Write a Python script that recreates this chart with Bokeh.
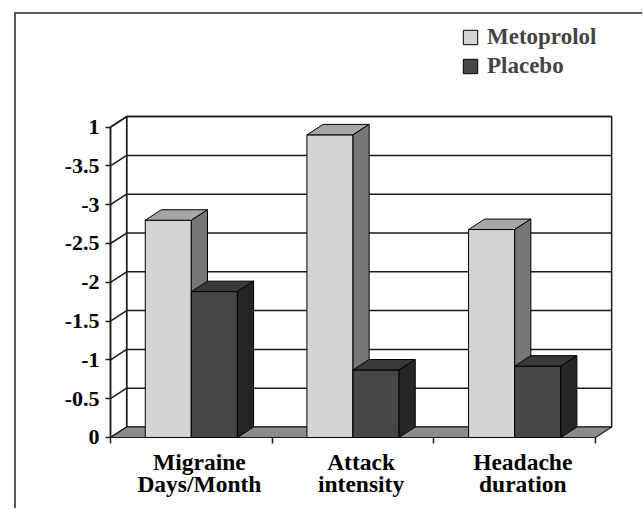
import numpy as np
from bokeh.plotting import figure
from bokeh.models import Range1d, FixedTicker, Legend, LegendItem
from bokeh.embed import file_html
from bokeh.resources import INLINE

# ---- data ----
categories = ["Migraine\nDays/Month", "Attack\nintensity", "Headache\nduration"]
series_names = ["Metoprolol", "Placebo"]
metoprolol = [-2.8, -3.9, -2.68]
placebo = [-1.88, -0.87, -0.92]
y_ticks = [0, 0.5, 1, 1.5, 2, 2.5, 3, 3.5, 4]
y_tick_labels = ["0", "-0.5", "-1", "-1.5", "-2", "-2.5", "-3", "-3.5", "1"]

# ---- style ----
DX, DY = 0.1, 0.135      # 3D depth offset (data units)
BAR_W = 0.285
FONT = "Liberation Serif"
MET_COLORS = ("#d4d4d4", "#a6a6a6", "#777777")   # front, top, side
PLA_COLORS = ("#474747", "#393939", "#262626")
FLOOR = "#8c8c8c"
GRID = "#1a1a1a"

n = len(categories)
ymax = y_ticks[-1]

p = figure(width=628, height=496, output_backend="svg", toolbar_location=None,
           x_range=Range1d(-0.0247, 3.1299), y_range=Range1d(-0.0516, 5.3737),
           min_border_left=90, min_border_right=28, min_border_top=6,
           min_border_bottom=69)
p.margin = (12, 0, 0, 14)
p.styles = {"border-top": "2px solid #5a5a5a", "border-left": "2px solid #5a5a5a"}
p.outline_line_color = None
p.grid.visible = False
p.background_fill_color = "white"

# back wall
p.quad(left=DX, right=n + DX, bottom=DY, top=ymax + DY,
       fill_color="white", line_color=GRID, line_width=1.5)
# side wall
p.patch([0, DX, DX, 0], [0, DY, ymax + DY, ymax],
        fill_color="white", line_color=GRID, line_width=1.5)
# gridlines
gt = [t for t in y_ticks if t > 0]
p.segment(x0=[DX] * len(gt), x1=[n + DX] * len(gt),
          y0=[t + DY for t in gt], y1=[t + DY for t in gt],
          line_color=GRID, line_width=1.5)
p.segment(x0=[0] * len(gt), x1=[DX] * len(gt),
          y0=gt, y1=[t + DY for t in gt], line_color=GRID, line_width=1.5)
# floor
p.patch([0, n, n + DX, DX], [0, 0, DY, DY],
        fill_color=FLOOR, line_color=GRID, line_width=1.2)
# front axis line
p.segment(x0=[0], x1=[0], y0=[0], y1=[ymax], line_color=GRID, line_width=1.5)

centers = np.arange(n) + 0.5
fronts = []
for vals, colors, side in ((metoprolol, MET_COLORS, -1), (placebo, PLA_COLORS, 1)):
    h = -np.array(vals, dtype=float)
    left = centers - BAR_W if side < 0 else centers
    right = left + BAR_W
    fr = p.quad(left=left, right=right, bottom=0, top=h,
                fill_color=colors[0], line_color="black", line_width=1)
    fronts.append(fr)
    p.patches(xs=[[l, r, r + DX, l + DX] for l, r in zip(left, right)],
              ys=[[v, v, v + DY, v + DY] for v in h],
              fill_color=colors[1], line_color="black", line_width=1)
    p.patches(xs=[[r, r + DX, r + DX, r] for r in right],
              ys=[[0, DY, v + DY, v] for v in h],
              fill_color=colors[2], line_color="black", line_width=1)

# y axis
ya = p.yaxis[0]
ya.ticker = FixedTicker(ticks=y_ticks)
ya.major_label_overrides = dict(zip(y_ticks, y_tick_labels))
ya.axis_line_color = None
ya.major_tick_in = 4
ya.major_tick_out = 1
ya.major_tick_line_color = GRID
ya.major_tick_line_width = 1.5
ya.minor_tick_line_color = None
ya.major_label_text_font = FONT
ya.major_label_text_font_style = "bold"
ya.major_label_text_font_size = "22px"
ya.major_label_text_color = "black"
ya.major_label_standoff = 6

# x axis
label_pos = [float(c + DX / 2) for c in centers]
xa = p.xaxis[0]
xa.ticker = FixedTicker(ticks=label_pos, minor_ticks=list(range(n + 1)))
xa.major_label_overrides = dict(zip(label_pos, categories))
xa.axis_line_color = None
xa.major_tick_line_color = None
xa.major_tick_in = 0
xa.major_tick_out = 0
xa.minor_tick_in = 4
xa.minor_tick_out = 2
xa.minor_tick_line_color = GRID
xa.minor_tick_line_width = 1.5
xa.major_label_text_font = FONT
xa.major_label_text_font_style = "bold"
xa.major_label_text_font_size = "23.5px"
xa.major_label_text_color = "black"
xa.major_label_text_line_height = 0.86
xa.major_label_standoff = 5

legend = Legend(items=[LegendItem(label=series_names[0], renderers=[fronts[0]]),
                       LegendItem(label=series_names[1], renderers=[fronts[1]])],
                location=(355, 362), glyph_width=18, glyph_height=18,
                label_text_font=FONT, label_text_font_style="bold",
                label_text_font_size="23px", spacing=3, padding=0, margin=0,
                border_line_color=None, background_fill_alpha=0, label_standoff=8)
p.add_layout(legend)

open("out.html", "w").write(file_html(p, INLINE))
